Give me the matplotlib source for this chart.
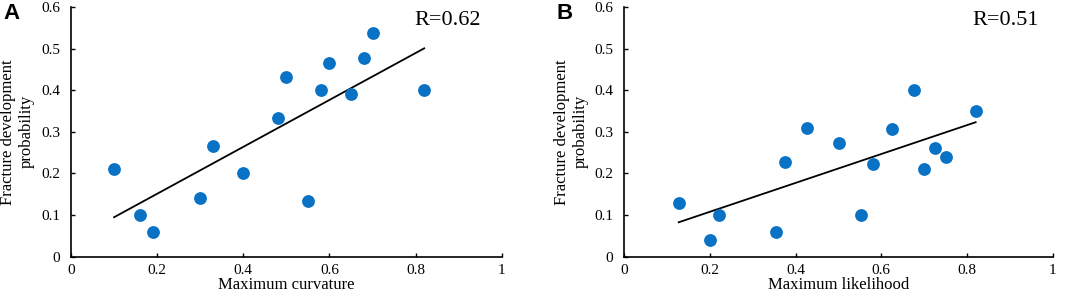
import numpy as np
import matplotlib.pyplot as plt

# data
curv_x = [0.10, 0.16, 0.19, 0.30, 0.33, 0.40, 0.48, 0.50, 0.55, 0.58, 0.60, 0.65, 0.68, 0.70, 0.82]
curv_y = [0.21, 0.10, 0.06, 0.14, 0.265, 0.20, 0.333, 0.432, 0.133, 0.40, 0.466, 0.39, 0.478, 0.537, 0.40]
curv_r = "R=0.62"

like_x = [0.127, 0.20, 0.22, 0.353, 0.376, 0.427, 0.50, 0.552, 0.58, 0.625, 0.676, 0.70, 0.725, 0.75, 0.82]
like_y = [0.128, 0.04, 0.10, 0.058, 0.228, 0.308, 0.274, 0.10, 0.222, 0.307, 0.40, 0.21, 0.26, 0.24, 0.35]
like_r = "R=0.51"

xticks = [0, 0.2, 0.4, 0.6, 0.8, 1]
xtick_labels = ["0", "0.2", "0.4", "0.6", "0.8", "1"]
yticks = [0, 0.1, 0.2, 0.3, 0.4, 0.5, 0.6]
ytick_labels = ["0", "0.1", "0.2", "0.3", "0.4", "0.5", "0.6"]

serif = ["Liberation Serif", "DejaVu Serif"]
blue = "#0a72c4"

fig = plt.figure(figsize=(10.65, 2.97), dpi=100)
ax1 = fig.add_axes([0.0667, 0.136, 0.4044, 0.8404])
ax2 = fig.add_axes([0.5862, 0.136, 0.4023, 0.8404])


def draw(ax, x, y, rtext, xlabel, letter):
    x = np.array(x)
    y = np.array(y)
    ax.scatter(x, y, s=85, color=blue, zorder=3, linewidths=0)
    k, b = np.polyfit(x, y, 1)
    xs = np.array([x.min(), x.max()])
    ax.plot(xs, k * xs + b, color="black", lw=1.3)
    ax.set_xlim(0, 1)
    ax.set_ylim(0, 0.6)
    ax.set_xticks(xticks)
    ax.set_xticklabels(xtick_labels, family=serif, fontsize=11)
    ax.set_yticks(yticks)
    ax.set_yticklabels(ytick_labels, family=serif, fontsize=11)
    ax.tick_params(direction="in", length=3, width=1, pad=8)
    ax.tick_params(axis="x", pad=5.5)
    for s in ["top", "right"]:
        ax.spines[s].set_visible(False)
    for s in ["left", "bottom"]:
        ax.spines[s].set_linewidth(1.2)
    ax.set_xlabel(xlabel, family=serif, fontsize=12, labelpad=0)
    ax.set_ylabel("Fracture development\nprobability", family=serif, fontsize=12,
                  linespacing=1.2)
    ax.yaxis.set_label_coords(-0.084, 0.5)
    ax.text(rtext[1], 0.567, rtext[0], family=serif, fontsize=16, va="center", ha="left")
    ax.text(-0.158, 0.61, letter, family=["Liberation Sans", "DejaVu Sans"],
            fontweight="bold", fontsize=16, va="top", ha="left", clip_on=False)


draw(ax1, curv_x, curv_y, (curv_r, 0.797), "Maximum curvature", "A")
draw(ax2, like_x, like_y, (like_r, 0.812), "Maximum likelihood", "B")

fig.savefig("out.png", dpi=100)
